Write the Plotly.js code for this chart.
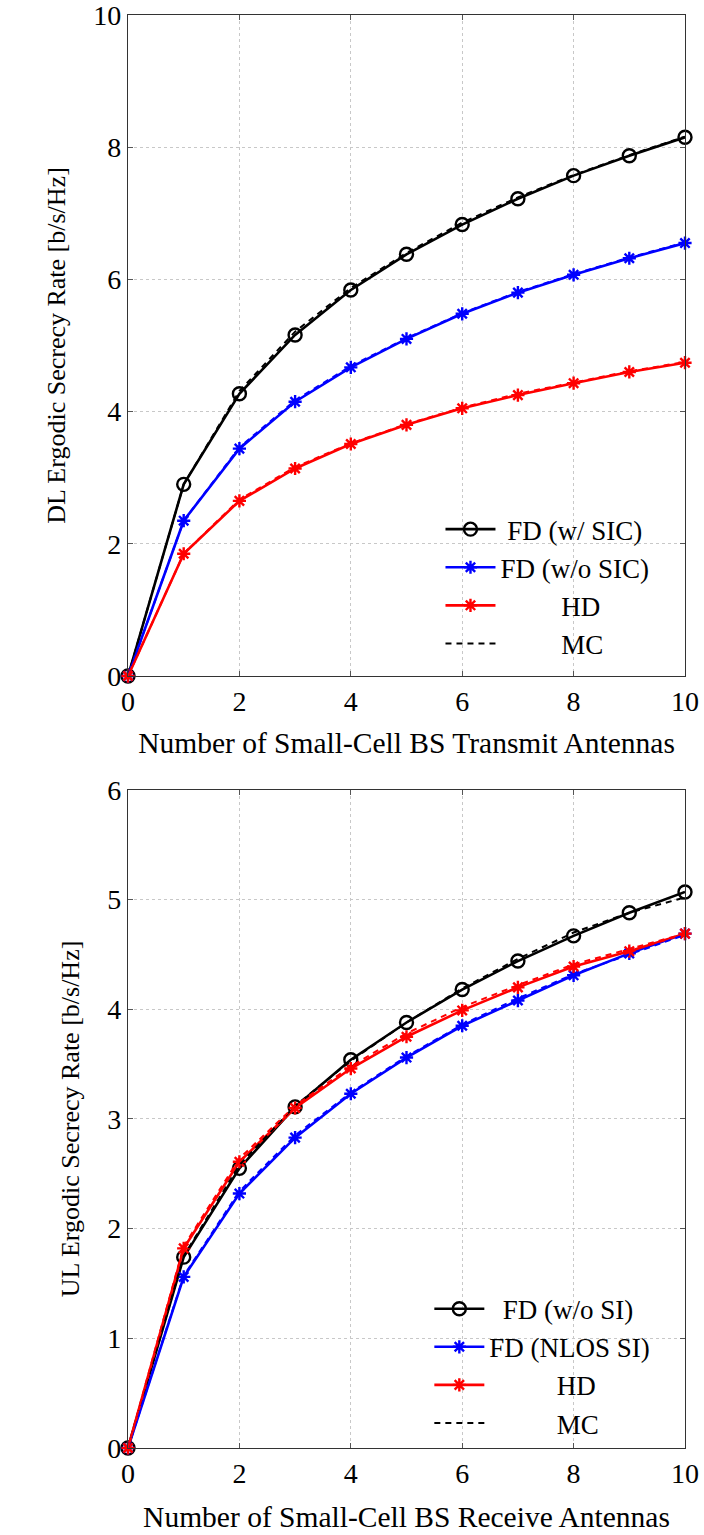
<!DOCTYPE html>
<html>
<head>
<meta charset="utf-8">
<script src="https://cdn.plot.ly/plotly-3.0.1.min.js"></script>
<style>html,body{margin:0;padding:0;background:#fff;}#chart{width:704px;height:1535px;}</style>
</head>
<body>
<div id="chart"></div>
<script>
// ---- Data ----
const antennas = [0, 1, 2, 3, 4, 5, 6, 7, 8, 9, 10];

// Downlink (top panel)
const dlFdSic   = [0, 2.90, 4.27, 5.16, 5.84, 6.38, 6.83, 7.22, 7.57, 7.87, 8.15];
const dlFdNoSic = [0, 2.35, 3.44, 4.15, 4.67, 5.10, 5.48, 5.80, 6.07, 6.32, 6.55];
const dlHd      = [0, 1.85, 2.65, 3.14, 3.51, 3.80, 4.05, 4.25, 4.43, 4.60, 4.74];
const dlMcFdSic   = [0, 2.90, 4.31, 5.21, 5.87, 6.40, 6.86, 7.24, 7.58, 7.88, 8.16];
const dlMcFdNoSic = [0, 2.35, 3.46, 4.17, 4.69, 5.11, 5.49, 5.81, 6.08, 6.33, 6.56];
const dlMcHd      = [0, 1.85, 2.67, 3.16, 3.52, 3.81, 4.06, 4.27, 4.44, 4.61, 4.75];

// Uplink (bottom panel)
const ulFdNoSi   = [0, 1.74, 2.55, 3.11, 3.54, 3.88, 4.18, 4.44, 4.67, 4.88, 5.07];
const ulFdNlosSi = [0, 1.56, 2.32, 2.83, 3.23, 3.56, 3.85, 4.08, 4.31, 4.51, 4.69];
const ulHd       = [0, 1.82, 2.61, 3.10, 3.46, 3.75, 3.99, 4.20, 4.39, 4.53, 4.69];
const ulMcFdNoSi   = [0, 1.75, 2.58, 3.12, 3.53, 3.88, 4.19, 4.46, 4.70, 4.88, 5.02];
const ulMcFdNlosSi = [0, 1.57, 2.34, 2.85, 3.24, 3.57, 3.86, 4.10, 4.32, 4.50, 4.68];
const ulMcHd       = [0, 1.84, 2.64, 3.12, 3.48, 3.78, 4.02, 4.22, 4.41, 4.55, 4.69];

const xTickVals = [0, 2, 4, 6, 8, 10];
const xTickText = ['0', '2', '4', '6', '8', '10'];
const dlYTicks = [0, 2, 4, 6, 8, 10];
const ulYTicks = [0, 1, 2, 3, 4, 5, 6];

const dlNames = ['FD (w/ SIC)', 'FD (w/o SIC)', 'HD', 'MC'];
const ulNames = ['FD (w/o SI)', 'FD (NLOS SI)', 'HD', 'MC'];
const xTitleTop = 'Number of Small-Cell BS Transmit Antennas';
const xTitleBottom = 'Number of Small-Cell BS Receive Antennas';
const yTitleTop = 'DL Ergodic Secrecy Rate [b/s/Hz]';
const yTitleBottom = 'UL Ergodic Secrecy Rate [b/s/Hz]';

// ---- Styling ----
const FONT = '"Liberation Serif", "Times New Roman", Times, serif';
const NB = '\u00A0';
function pad(n, s) { return NB.repeat(n) + s; }

function solid(x, y, color, sym, name, xa, ya, leg, msize) {
  return {
    x: x, y: y, type: 'scatter', mode: 'lines+markers', name: name,
    xaxis: xa, yaxis: ya, legend: leg, cliponaxis: false,
    line: {color: color, width: 2.6},
    marker: {symbol: sym, size: msize, color: color, line: {color: color, width: 2.4}}
  };
}
function dashed(x, y, color, name, xa, ya, leg, show) {
  return {
    x: x, y: y, type: 'scatter', mode: 'lines', name: name,
    xaxis: xa, yaxis: ya, legend: leg, showlegend: show, cliponaxis: false,
    line: {color: color, width: 2, dash: '6px,5px'}
  };
}

const traces = [
  solid(antennas, dlFdSic, '#000000', 'circle-open', pad(1, dlNames[0]), 'x', 'y', 'legend', 13),
  solid(antennas, dlFdNoSic, '#0000ff', 'asterisk-open', dlNames[1], 'x', 'y', 'legend', 11),
  solid(antennas, dlHd, '#ff0000', 'asterisk-open', pad(9, dlNames[2]), 'x', 'y', 'legend', 11),
  dashed(antennas, dlMcFdSic, '#000000', pad(9, dlNames[3]), 'x', 'y', 'legend', true),
  dashed(antennas, dlMcFdNoSic, '#0000ff', 'MC', 'x', 'y', 'legend', false),
  dashed(antennas, dlMcHd, '#ff0000', 'MC', 'x', 'y', 'legend', false),

  solid(antennas, ulFdNoSi, '#000000', 'circle-open', pad(2, ulNames[0]), 'x2', 'y2', 'legend2', 13),
  solid(antennas, ulFdNlosSi, '#0000ff', 'asterisk-open', ulNames[1], 'x2', 'y2', 'legend2', 11),
  solid(antennas, ulHd, '#ff0000', 'asterisk-open', pad(10, ulNames[2]), 'x2', 'y2', 'legend2', 11),
  dashed(antennas, ulMcFdNoSi, '#000000', pad(10, ulNames[3]), 'x2', 'y2', 'legend2', true),
  dashed(antennas, ulMcFdNlosSi, '#0000ff', 'MC', 'x2', 'y2', 'legend2', false),
  dashed(antennas, ulMcHd, '#ff0000', 'MC', 'x2', 'y2', 'legend2', false)
];

const axisCommon = {
  showline: true, linecolor: '#333', linewidth: 1.2, mirror: 'ticks',
  ticks: 'inside', ticklen: 5, tickcolor: '#555', tickwidth: 1,
  showgrid: true, gridcolor: '#c8c8c8', griddash: 'dot', gridwidth: 1,
  zeroline: false, ticklabeloverflow: 'allow',
  tickfont: {family: FONT, size: 28, color: '#000'}
};

const layout = {
  width: 704, height: 1535,
  margin: {l: 128, r: 19, t: 15, b: 87},
  paper_bgcolor: '#fff', plot_bgcolor: '#fff',
  font: {family: FONT, color: '#000'},
  showlegend: true,
  xaxis: Object.assign({}, axisCommon, {
    domain: [0, 1], anchor: 'y', range: [0, 10],
    tickvals: xTickVals, ticktext: xTickText,
    title: {text: xTitleTop, font: {family: FONT, size: 29.5}, standoff: 16}
  }),
  yaxis: Object.assign({}, axisCommon, {
    domain: [0.5387, 1], anchor: 'x', range: [0, 10], tickvals: dlYTicks,
    title: {text: yTitleTop, font: {family: FONT, size: 26}, standoff: 20}
  }),
  xaxis2: Object.assign({}, axisCommon, {
    domain: [0, 1], anchor: 'y2', range: [0, 10],
    tickvals: xTickVals, ticktext: xTickText,
    title: {text: xTitleBottom, font: {family: FONT, size: 29.5}, standoff: 18}
  }),
  yaxis2: Object.assign({}, axisCommon, {
    domain: [0, 0.4592], anchor: 'x2', range: [0, 6], tickvals: ulYTicks,
    title: {text: yTitleBottom, font: {family: FONT, size: 26}, standoff: 20}
  }),
  legend: {
    x: 0.561, y: 0.658, xanchor: 'left', yanchor: 'top',
    bgcolor: 'rgba(255,255,255,0)', borderwidth: 0,
    font: {family: FONT, size: 27, color: '#000'}, itemwidth: 50
  },
  legend2: {
    x: 0.541, y: 0.114, xanchor: 'left', yanchor: 'top',
    bgcolor: 'rgba(255,255,255,0)', borderwidth: 0,
    font: {family: FONT, size: 27, color: '#000'}, itemwidth: 50
  }
};

Plotly.newPlot('chart', traces, layout, {displayModeBar: false, staticPlot: true});
</script>
</body>
</html>
